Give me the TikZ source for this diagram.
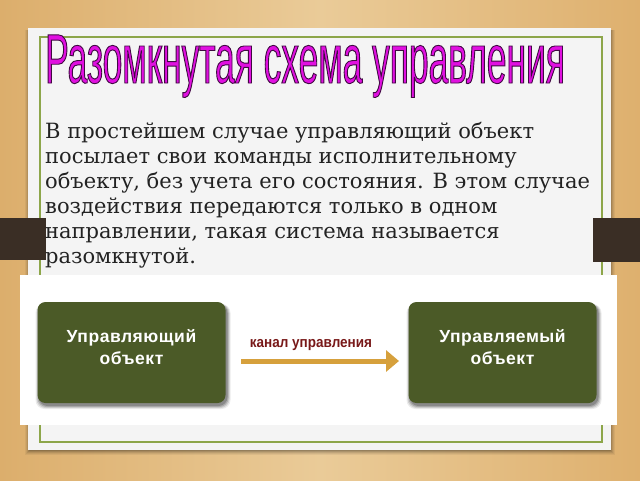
\documentclass[tikz,border=0pt]{standalone}
\usepackage{fontspec}
\setmainfont{DejaVu Serif}
\newfontfamily\sansfont{Liberation Sans}
\newfontfamily\titlefont[FakeStretch=0.505]{Liberation Sans}
\newfontfamily\boxfont[LetterSpace=3]{Liberation Sans}
\usetikzlibrary{arrows.meta}
\definecolor{woodL}{HTML}{DCAE6C}
\definecolor{woodM}{HTML}{EACB98}
\definecolor{woodR}{HTML}{DEB06E}
\definecolor{cardcol}{HTML}{F4F4F4}
\definecolor{greenline}{HTML}{8DA64A}
\definecolor{tabcol}{HTML}{3A2E25}
\definecolor{titlecol}{HTML}{E010E0}
\definecolor{textcol}{HTML}{222222}
\definecolor{boxcol}{HTML}{4B5A27}
\definecolor{arrowcol}{HTML}{D6A03C}
\definecolor{labcol}{HTML}{781818}
\newcommand\outlinetext[1]{\special{pdf:literal direct 0.25 0.04 0.26 RG 0.9 w 2 Tr}#1\special{pdf:literal direct 0 Tr}}
\tikzset{
  bodyline/.style={anchor=base west, inner sep=0pt, text=textcol, font=\fontsize{21}{25}\selectfont},
  objbox/.style={draw=none, fill=boxcol, rounded corners=8pt, minimum width=188pt, minimum height=101pt, inner sep=0pt},
  boxtext/.style={text=white, align=center, inner sep=0pt, font=\boxfont\bfseries\fontsize{17.5}{22}\selectfont},
  shadowfill/.style={fill=black, rounded corners=9pt}
}
\begin{document}
\begin{tikzpicture}[x=1pt,y=-1pt]
\useasboundingbox (0,0) rectangle (640,480);
% wood background
\shade[left color=woodL, right color=woodR, middle color=woodM] (0,0) rectangle (640,480);
% card shadow
\foreach \i/\o in {5/0.05,4/0.06,3/0.08,2/0.1,1/0.12}
  \fill[black, opacity=\o] (28-\i+2,30) rectangle (611+\i-1,450+\i);
% card
\fill[cardcol] (28,28) rectangle (611,450);
\draw[greenline, line width=1.2pt] (40,37) rectangle (602,442);
% side tabs
\fill[tabcol] (0,218) rectangle (46,260);
\fill[tabcol] (593,218) rectangle (640,262);
% title
\node[anchor=base west, inner sep=0pt, text=titlecol, font=\titlefont\fontsize{70}{70}\selectfont] (title) at (45,83)
  {\outlinetext{Разомкнутая схема управления}};
% body text
\node[bodyline] (t1) at (45,138) {В простейшем случае управляющий объект};
\node[bodyline] (t2) at (45,163) {посылает свои команды исполнительному};
\node[bodyline] (t3) at (45,188) {объекту, без учета его состояния. В этом случае};
\node[bodyline] (t4) at (45,213) {воздействия передаются только в одном};
\node[bodyline] (t5) at (45,238) {направлении, такая система называется};
\node[bodyline] (t6) at (45,263) {разомкнутой.};
% diagram strip
\fill[white] (20,275) rectangle (617,425);
% box shadows
\foreach \i/\o in {4/0.08,3/0.12,2/0.16,1/0.2}{
  \fill[shadowfill, opacity=\o] (37.5-\i+2,302+2) rectangle (225.5+\i+1,403+\i+2);
  \fill[shadowfill, opacity=\o] (408.5-\i+2,302+2) rectangle (596.5+\i+1,403+\i+2);
}
% boxes
\node[objbox] (lbox) at (131.5,352.5) {};
\node[objbox] (rbox) at (502.5,352.5) {};
\node[boxtext] (ltext) at (131.5,347) {Управляющий\\объект};
\node[boxtext] (rtext) at (502.5,347) {Управляемый\\объект};
% arrow
\coordinate (arrS) at (241,361);
\coordinate (arrE) at (399,361);
\draw[arrowcol, line width=5pt, -{Triangle[length=13pt,width=21pt]}] (arrS) -- (arrE);
\node[inner sep=0pt, text=labcol] (lab) at (311,345)
  {\scalebox{0.9}[1]{\sansfont\bfseries\fontsize{15}{15}\selectfont канал управления}};
\end{tikzpicture}
\end{document}
